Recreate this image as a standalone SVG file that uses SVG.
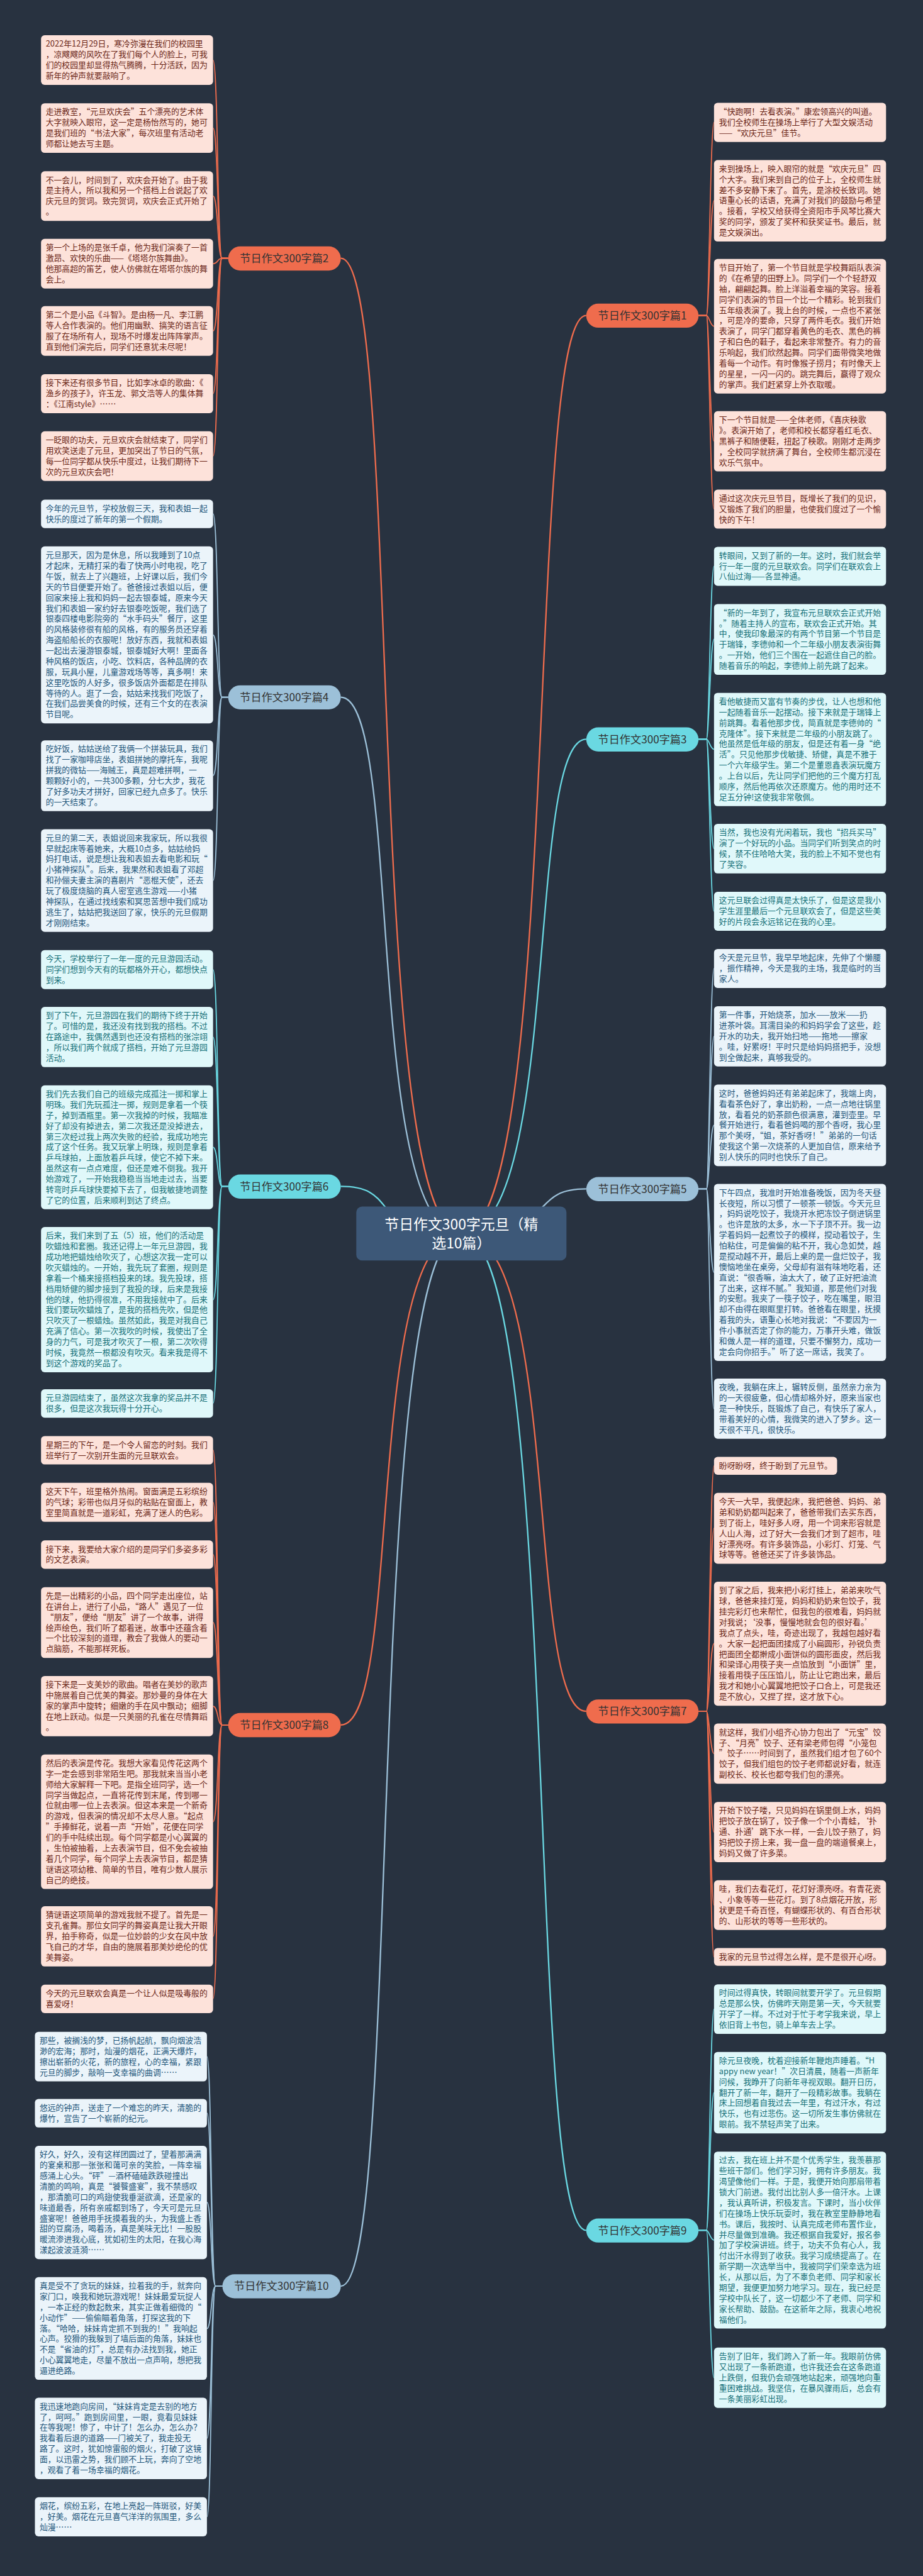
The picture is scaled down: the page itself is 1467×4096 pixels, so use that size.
<svg xmlns="http://www.w3.org/2000/svg" width="1467" height="4096" viewBox="0 0 1467 4096">
<style>
.t{font-family:"Noto Sans CJK SC","Noto Sans",sans-serif;font-size:22.5px}
.lo{fill:#fde2da}.lb{fill:#ebf4fa}.lt{fill:#e0f8fa}
.to{fill:#6b2617}.tb{fill:#22567a}.tt{fill:#157078}
.no{fill:#ef6c4d}.nb{fill:#9cc0d8}.nt{fill:#6ad8e2}
.nt2{font-family:"Noto Sans CJK SC","Noto Sans",sans-serif;font-size:30px;fill:#333;text-anchor:middle}
.co{stroke:#ef6c4d}.cb{stroke:#9cc0d8}.ct{stroke:#6ad8e2}
#connectors path{fill:none;stroke-width:3}
#connectors .m{stroke-width:4}
</style>
<rect width="1467" height="4096" fill="#283240"/>
<g transform="scale(0.572)">
<g id="connectors">
<!-- center to branches -->
<path class="m co" d="M947,718 C1120,718 1010,3429 1282,3429"/>
<path class="m cb" d="M947,1938 C1120,1938 1010,3429 1282,3429"/>
<path class="m ct" d="M947,3298 C1120,3298 1010,3429 1282,3429"/>
<path class="m co" d="M947,4795 C1120,4795 1010,3429 1282,3429"/>
<path class="m cb" d="M947,6355 C1120,6355 1010,3429 1282,3429"/>
<path class="m co" d="M1629,877 C1460,877 1560,3429 1282,3429"/>
<path class="m ct" d="M1629,2055 C1460,2055 1560,3429 1282,3429"/>
<path class="m cb" d="M1629,3305 C1460,3305 1560,3429 1282,3429"/>
<path class="m co" d="M1629,4757 C1460,4757 1560,3429 1282,3429"/>
<path class="m ct" d="M1629,6200 C1460,6200 1560,3429 1282,3429"/>
<!-- 篇2 leaves -->
<path class="co" d="M634,718 L617,718 C604,718 606,167 592,167"/>
<path class="co" d="M634,718 L617,718 C604,718 606,356 592,356"/>
<path class="co" d="M634,718 L617,718 C604,718 606,545 592,545"/>
<path class="co" d="M634,718 L617,718 C604,718 606,733 592,733"/>
<path class="co" d="M634,718 L617,718 C604,718 606,920 592,920"/>
<path class="co" d="M634,718 L617,718 C604,718 606,1094 592,1094"/>
<path class="co" d="M634,718 L617,718 C604,718 606,1268 592,1268"/>
<!-- 篇4 leaves -->
<path class="cb" d="M634,1938 L617,1938 C604,1938 606,1428 592,1428"/>
<path class="cb" d="M634,1938 L617,1938 C604,1938 606,1765 592,1765"/>
<path class="cb" d="M634,1938 L617,1938 C604,1938 606,2156 592,2156"/>
<path class="cb" d="M634,1938 L617,1938 C604,1938 606,2448 592,2448"/>
<!-- 篇6 leaves -->
<path class="ct" d="M634,3298 L617,3298 C604,3298 606,2695 592,2695"/>
<path class="ct" d="M634,3298 L617,3298 C604,3298 606,2883 592,2883"/>
<path class="ct" d="M634,3298 L617,3298 C604,3298 606,3189 592,3189"/>
<path class="ct" d="M634,3298 L617,3298 C604,3298 606,3613 592,3613"/>
<path class="ct" d="M634,3298 L617,3298 C604,3298 606,3901 592,3901"/>
<!-- 篇8 leaves -->
<path class="co" d="M634,4795 L617,4795 C604,4795 606,4031 592,4031"/>
<path class="co" d="M634,4795 L617,4795 C604,4795 606,4176 592,4176"/>
<path class="co" d="M634,4795 L617,4795 C604,4795 606,4321 592,4321"/>
<path class="co" d="M634,4795 L617,4795 C604,4795 606,4510 592,4510"/>
<path class="co" d="M634,4795 L617,4795 C604,4795 606,4743 592,4743"/>
<path class="co" d="M634,4795 L617,4795 C604,4795 606,5064 592,5064"/>
<path class="co" d="M634,4795 L617,4795 C604,4795 606,5383 592,5383"/>
<path class="co" d="M634,4795 L617,4795 C604,4795 606,5556 592,5556"/>
<!-- 篇10 leaves -->
<path class="cb" d="M618,6355 L599,6355 C586,6355 588,5717 575,5717"/>
<path class="cb" d="M618,6355 L599,6355 C586,6355 588,5874 575,5874"/>
<path class="cb" d="M618,6355 L599,6355 C586,6355 588,6122 575,6122"/>
<path class="cb" d="M618,6355 L599,6355 C586,6355 588,6473 575,6473"/>
<path class="cb" d="M618,6355 L599,6355 C586,6355 588,6778 575,6778"/>
<path class="cb" d="M618,6355 L599,6355 C586,6355 588,6996 575,6996"/>
<!-- 篇1 leaves -->
<path class="co" d="M1941,877 L1963,877 C1970,877 1974,340 1984,340"/>
<path class="co" d="M1941,877 L1963,877 C1970,877 1974,558 1984,558"/>
<path class="co" d="M1941,877 L1963,877 C1970,877 1974,907 1984,907"/>
<path class="co" d="M1941,877 L1963,877 C1970,877 1974,1226 1984,1226"/>
<path class="co" d="M1941,877 L1963,877 C1970,877 1974,1415 1984,1415"/>
<!-- 篇3 leaves -->
<path class="ct" d="M1941,2055 L1963,2055 C1970,2055 1974,1574 1984,1574"/>
<path class="ct" d="M1941,2055 L1963,2055 C1970,2055 1974,1777 1984,1777"/>
<path class="ct" d="M1941,2055 L1963,2055 C1970,2055 1974,2083 1984,2083"/>
<path class="ct" d="M1941,2055 L1963,2055 C1970,2055 1974,2359 1984,2359"/>
<path class="ct" d="M1941,2055 L1963,2055 C1970,2055 1974,2533 1984,2533"/>
<!-- 篇5 leaves -->
<path class="cb" d="M1941,3305 L1963,3305 C1970,3305 1974,2692 1984,2692"/>
<path class="cb" d="M1941,3305 L1963,3305 C1970,3305 1974,2881 1984,2881"/>
<path class="cb" d="M1941,3305 L1963,3305 C1970,3305 1974,3128 1984,3128"/>
<path class="cb" d="M1941,3305 L1963,3305 C1970,3305 1974,3537 1984,3537"/>
<path class="cb" d="M1941,3305 L1963,3305 C1970,3305 1974,3916 1984,3916"/>
<!-- 篇7 leaves -->
<path class="co" d="M1941,4757 L1963,4757 C1970,4757 1974,4075 1984,4075"/>
<path class="co" d="M1941,4757 L1963,4757 C1970,4757 1974,4248 1984,4248"/>
<path class="co" d="M1941,4757 L1963,4757 C1970,4757 1974,4569 1984,4569"/>
<path class="co" d="M1941,4757 L1963,4757 C1970,4757 1974,4875 1984,4875"/>
<path class="co" d="M1941,4757 L1963,4757 C1970,4757 1974,5093 1984,5093"/>
<path class="co" d="M1941,4757 L1963,4757 C1970,4757 1974,5296 1984,5296"/>
<path class="co" d="M1941,4757 L1963,4757 C1970,4757 1974,5440 1984,5440"/>
<!-- 篇9 leaves -->
<path class="ct" d="M1941,6200 L1963,6200 C1970,6200 1974,5585 1984,5585"/>
<path class="ct" d="M1941,6200 L1963,6200 C1970,6200 1974,5817 1984,5817"/>
<path class="ct" d="M1941,6200 L1963,6200 C1970,6200 1974,6227 1984,6227"/>
<path class="ct" d="M1941,6200 L1963,6200 C1970,6200 1974,6610 1984,6610"/>
</g>

<g id="center">
<rect x="990" y="3354" width="584" height="150" rx="16" fill="#3d5878"/>
<text x="1282" y="3418" text-anchor="middle" font-family="Noto Sans CJK SC, Noto Sans, sans-serif" font-size="40" fill="#ffffff">节日作文300字元旦（精</text>
<text x="1282" y="3470" text-anchor="middle" font-family="Noto Sans CJK SC, Noto Sans, sans-serif" font-size="40" fill="#ffffff">选10篇）</text>
</g>

<!-- branch nodes -->
<g id="b2"><rect class="no" x="634" y="685" width="313" height="67" rx="33.5"/><text class="nt2" x="790" y="729">节日作文300字篇2</text></g>
<g id="b4"><rect class="nb" x="634" y="1905" width="313" height="67" rx="33.5"/><text class="nt2" x="790" y="1949">节日作文300字篇4</text></g>
<g id="b6"><rect class="nt" x="634" y="3265" width="313" height="67" rx="33.5"/><text class="nt2" x="790" y="3309">节日作文300字篇6</text></g>
<g id="b8"><rect class="no" x="634" y="4762" width="313" height="67" rx="33.5"/><text class="nt2" x="790" y="4806">节日作文300字篇8</text></g>
<g id="b10"><rect class="nb" x="618" y="6322" width="329" height="67" rx="33.5"/><text class="nt2" x="782" y="6366">节日作文300字篇10</text></g>
<g id="b1"><rect class="no" x="1629" y="844" width="312" height="67" rx="33.5"/><text class="nt2" x="1785" y="888">节日作文300字篇1</text></g>
<g id="b3"><rect class="nt" x="1629" y="2022" width="312" height="67" rx="33.5"/><text class="nt2" x="1785" y="2066">节日作文300字篇3</text></g>
<g id="b5"><rect class="nb" x="1629" y="3272" width="312" height="67" rx="33.5"/><text class="nt2" x="1785" y="3316">节日作文300字篇5</text></g>
<g id="b7"><rect class="no" x="1629" y="4724" width="312" height="67" rx="33.5"/><text class="nt2" x="1785" y="4768">节日作文300字篇7</text></g>
<g id="b9"><rect class="nt" x="1629" y="6167" width="312" height="67" rx="33.5"/><text class="nt2" x="1785" y="6211">节日作文300字篇9</text></g>

<!-- 篇2 leaves -->
<g id="a1"><rect class="lo" x="114" y="98" width="478" height="138" rx="10"/><text class="t to" x="127" y="130"><tspan x="127">2022年12月29日，寒冷弥漫在我们的校园里</tspan><tspan x="127" dy="29.5">，凉飕飕的风吹在了我们每个人的脸上，可我</tspan><tspan x="127" dy="29.5">们的校园里却显得热气腾腾，十分活跃，因为</tspan><tspan x="127" dy="29.5">新年的钟声就要敲响了。</tspan></text></g>
<g id="a2"><rect class="lo" x="114" y="287" width="478" height="138" rx="10"/><text class="t to" x="127" y="319"><tspan x="127">走进教室，“元旦欢庆会”五个漂亮的艺术体</tspan><tspan x="127" dy="29.5">大字就映入眼帘，这一定是杨怡然写的，她可</tspan><tspan x="127" dy="29.5">是我们班的“书法大家”，每次班里有活动老</tspan><tspan x="127" dy="29.5">师都让她去写主题。</tspan></text></g>
<g id="a3"><rect class="lo" x="114" y="476" width="478" height="138" rx="10"/><text class="t to" x="127" y="508"><tspan x="127">不一会儿，时间到了，欢庆会开始了。由于我</tspan><tspan x="127" dy="29.5">是主持人，所以我和另一个搭档上台说起了欢</tspan><tspan x="127" dy="29.5">庆元旦的贺词。致完贺词，欢庆会正式开始了</tspan><tspan x="127" dy="29.5">。</tspan></text></g>
<g id="a4"><rect class="lo" x="114" y="664" width="478" height="138" rx="10"/><text class="t to" x="127" y="696"><tspan x="127">第一个上场的是张千卓，他为我们演奏了一首</tspan><tspan x="127" dy="29.5">激昂、欢快的乐曲——《塔塔尔族舞曲》。</tspan><tspan x="127" dy="29.5">他那高超的笛艺，使人仿佛就在塔塔尔族的舞</tspan><tspan x="127" dy="29.5">会上。</tspan></text></g>
<g id="a5"><rect class="lo" x="114" y="851" width="478" height="138" rx="10"/><text class="t to" x="127" y="883"><tspan x="127">第二个是小品《斗智》。是由杨一凡、李江鹏</tspan><tspan x="127" dy="29.5">等人合作表演的。他们用幽默、搞笑的语言征</tspan><tspan x="127" dy="29.5">服了在场所有人，现场不时爆发出阵阵掌声。</tspan><tspan x="127" dy="29.5">直到他们演完后，同学们还意犹未尽呢！</tspan></text></g>
<g id="a6"><rect class="lo" x="114" y="1040" width="478" height="108.5" rx="10"/><text class="t to" x="127" y="1072"><tspan x="127">接下来还有很多节目，比如李冰卓的歌曲：《</tspan><tspan x="127" dy="29.5">渔乡的孩子》，许玉龙、郭文浩等人的集体舞</tspan><tspan x="127" dy="29.5">：《江南style》……</tspan></text></g>
<g id="a7"><rect class="lo" x="114" y="1199" width="478" height="138" rx="10"/><text class="t to" x="127" y="1231"><tspan x="127">一眨眼的功夫，元旦欢庆会就结束了，同学们</tspan><tspan x="127" dy="29.5">用欢笑送走了元旦，更加突出了节日的气氛，</tspan><tspan x="127" dy="29.5">每一位同学都从快乐中度过，让我们期待下一</tspan><tspan x="127" dy="29.5">次的元旦欢庆会吧！</tspan></text></g>

<!-- 篇4 leaves -->
<g id="c4-1"><rect class="lb" x="114" y="1389" width="478" height="79" rx="10"/><text class="t tb" x="127" y="1421"><tspan x="127">今年的元旦节，学校放假三天，我和表姐一起</tspan><tspan x="127" dy="29.5">快乐的度过了新年的第一个假期。</tspan></text></g>
<g id="c4-2"><rect class="lb" x="114" y="1519" width="478" height="492" rx="10"/><text class="t tb" x="127" y="1551"><tspan x="127">元旦那天，因为是休息，所以我睡到了10点</tspan><tspan x="127" dy="29.5">才起床，无精打采的看了快两小时电视，吃了</tspan><tspan x="127" dy="29.5">午饭，就去上了兴趣班，上好课以后，我们今</tspan><tspan x="127" dy="29.5">天的节目便要开始了。爸爸接过表姐以后，便</tspan><tspan x="127" dy="29.5">回家来接上我和妈妈一起去银泰城，原来今天</tspan><tspan x="127" dy="29.5">我们和表姐一家约好去银泰吃饭呢，我们选了</tspan><tspan x="127" dy="29.5">银泰四楼电影院旁的“水手码头”餐厅，这里</tspan><tspan x="127" dy="29.5">的风格装修很有船的风格，有的服务员还穿着</tspan><tspan x="127" dy="29.5">海盗船船长的衣服呢！放好东西，我就和表姐</tspan><tspan x="127" dy="29.5">一起出去漫游银泰城，银泰城好大啊！里面各</tspan><tspan x="127" dy="29.5">种风格的饭店，小吃、饮料店，各种品牌的衣</tspan><tspan x="127" dy="29.5">服，玩具小屋，儿童游戏场等等，真多啊！来</tspan><tspan x="127" dy="29.5">这里吃饭的人好多，很多饭店外面都是在排队</tspan><tspan x="127" dy="29.5">等待的人。逛了一会，姑姑来找我们吃饭了，</tspan><tspan x="127" dy="29.5">在我们品尝美食的时候，还有三个女的在表演</tspan><tspan x="127" dy="29.5">节目呢。</tspan></text></g>
<g id="c4-3"><rect class="lb" x="114" y="2058" width="478" height="197" rx="10"/><text class="t tb" x="127" y="2090"><tspan x="127">吃好饭，姑姑送给了我俩一个拼装玩具，我们</tspan><tspan x="127" dy="29.5">找了一家咖啡店坐，表姐拼她的摩托车，我呢</tspan><tspan x="127" dy="29.5">拼我的微钻——海贼王，真是超难拼啊，一</tspan><tspan x="127" dy="29.5">颗颗好小的，一共300多颗，分七大步，我花</tspan><tspan x="127" dy="29.5">了好多功夫才拼好，回家已经九点多了。快乐</tspan><tspan x="127" dy="29.5">的一天结束了。</tspan></text></g>
<g id="c4-4"><rect class="lb" x="114" y="2305" width="478" height="285.5" rx="10"/><text class="t tb" x="127" y="2337"><tspan x="127">元旦的第二天，表姐说回来我家玩，所以我很</tspan><tspan x="127" dy="29.5">早就起床等着她来，大概10点多，姑姑给妈</tspan><tspan x="127" dy="29.5">妈打电话，说是想让我和表姐去看电影和玩“</tspan><tspan x="127" dy="29.5">小猪神探队”。后来，我果然和表姐看了邓超</tspan><tspan x="127" dy="29.5">和孙俪夫妻主演的喜剧片“恶棍天使”，还去</tspan><tspan x="127" dy="29.5">玩了极度烧脑的真人密室逃生游戏——小猪</tspan><tspan x="127" dy="29.5">神探队，在通过找线索和冥思苦想中我们成功</tspan><tspan x="127" dy="29.5">逃生了，姑姑把我送回了家，快乐的元旦假期</tspan><tspan x="127" dy="29.5">才刚刚结束。</tspan></text></g>

<!-- 篇6 leaves -->
<g id="c6-1"><rect class="lt" x="114" y="2641" width="478" height="108.5" rx="10"/><text class="t tt" x="127" y="2673"><tspan x="127">今天，学校举行了一年一度的元旦游园活动。</tspan><tspan x="127" dy="29.5">同学们想到今天有的玩都格外开心，都想快点</tspan><tspan x="127" dy="29.5">到来。</tspan></text></g>
<g id="c6-2"><rect class="lt" x="114" y="2799" width="478" height="167.5" rx="10"/><text class="t tt" x="127" y="2831"><tspan x="127">到了下午，元旦游园在我们的期待下终于开始</tspan><tspan x="127" dy="29.5">了。可惜的是，我还没有找到我的搭档。不过</tspan><tspan x="127" dy="29.5">在路途中，我偶然遇到也还没有搭档的张淙翊</tspan><tspan x="127" dy="29.5">，所以我们两个就成了搭档，开始了元旦游园</tspan><tspan x="127" dy="29.5">活动。</tspan></text></g>
<g id="c6-3"><rect class="lt" x="114" y="3017" width="478" height="344.5" rx="10"/><text class="t tt" x="127" y="3049"><tspan x="127">我们先去我们自己的班级完成孤注一掷和掌上</tspan><tspan x="127" dy="29.5">明珠。我们先玩孤注一掷，规则是拿着一个筷</tspan><tspan x="127" dy="29.5">子，掉到酒瓶里。第一次我掉的时候，我瞄准</tspan><tspan x="127" dy="29.5">好了却没有掉进去，第二次我还是没掉进去，</tspan><tspan x="127" dy="29.5">第三次经过我上两次失败的经验，我成功地完</tspan><tspan x="127" dy="29.5">成了这个任务。我又玩掌上明珠，规则是拿着</tspan><tspan x="127" dy="29.5">乒乓球拍，上面放着乒乓球，使它不掉下来。</tspan><tspan x="127" dy="29.5">虽然这有一点点难度，但还是难不倒我。我开</tspan><tspan x="127" dy="29.5">始游戏了，一开始我稳稳当当地走过去，当要</tspan><tspan x="127" dy="29.5">转弯时乒乓球快要掉下去了，但我敏捷地调整</tspan><tspan x="127" dy="29.5">了它的位置，后来顺利到达了终点。</tspan></text></g>
<g id="c6-4"><rect class="lt" x="114" y="3411" width="478" height="403.5" rx="10"/><text class="t tt" x="127" y="3443"><tspan x="127">后来，我们来到了五（5）班，他们的活动是</tspan><tspan x="127" dy="29.5">吹蜡烛和套圈。我还记得上一年元旦游园，我</tspan><tspan x="127" dy="29.5">成功地把蜡烛给吹灭了，心想这次我一定可以</tspan><tspan x="127" dy="29.5">吹灭蜡烛的。一开始，我先玩了套圈，规则是</tspan><tspan x="127" dy="29.5">拿着一个桶来接搭档投来的球。我先投球，搭</tspan><tspan x="127" dy="29.5">档用矫健的脚步接到了我投的球，后来是我接</tspan><tspan x="127" dy="29.5">他的球，他扔得很准，不用我接就中了。后来</tspan><tspan x="127" dy="29.5">我们要玩吹蜡烛了，是我的搭档先吹，但是他</tspan><tspan x="127" dy="29.5">只吹灭了一根蜡烛。虽然如此，我是对我自己</tspan><tspan x="127" dy="29.5">充满了信心。第一次我吹的时候，我使出了全</tspan><tspan x="127" dy="29.5">身的力气，可是我才吹灭了一根，第二次吹得</tspan><tspan x="127" dy="29.5">时候，我竟然一根都没有吹灭。看来我是得不</tspan><tspan x="127" dy="29.5">到这个游戏的奖品了。</tspan></text></g>
<g id="c6-5"><rect class="lt" x="114" y="3862" width="478" height="79" rx="10"/><text class="t tt" x="127" y="3894"><tspan x="127">元旦游园结束了，虽然这次我拿的奖品并不是</tspan><tspan x="127" dy="29.5">很多，但是这次我玩得十分开心。</tspan></text></g>

<!-- 篇8 leaves -->
<g id="c8-1"><rect class="lo" x="114" y="3992" width="478" height="79" rx="10"/><text class="t to" x="127" y="4024"><tspan x="127">星期三的下午，是一个令人留恋的时刻。我们</tspan><tspan x="127" dy="29.5">班举行了一次别开生面的元旦联欢会。</tspan></text></g>
<g id="c8-2"><rect class="lo" x="114" y="4122" width="478" height="108.5" rx="10"/><text class="t to" x="127" y="4154"><tspan x="127">这天下午，班里格外热闹。窗面满是五彩缤纷</tspan><tspan x="127" dy="29.5">的气球；彩带也似月牙似的粘贴在窗面上，教</tspan><tspan x="127" dy="29.5">室里简直就是一道彩虹，充满了迷人的色彩。</tspan></text></g>
<g id="c8-3"><rect class="lo" x="114" y="4282" width="478" height="79" rx="10"/><text class="t to" x="127" y="4314"><tspan x="127">接下来，我要给大家介绍的是同学们多姿多彩</tspan><tspan x="127" dy="29.5">的文艺表演。</tspan></text></g>
<g id="c8-4"><rect class="lo" x="114" y="4412" width="478" height="197" rx="10"/><text class="t to" x="127" y="4444"><tspan x="127">先是一出精彩的小品，四个同学走出座位，站</tspan><tspan x="127" dy="29.5">在讲台上，进行了小品，“路人”遇见了一位</tspan><tspan x="127" dy="29.5">“朋友”，便给“朋友”讲了一个故事，讲得</tspan><tspan x="127" dy="29.5">绘声绘色，我们听了都着迷，故事中还蕴含着</tspan><tspan x="127" dy="29.5">一个比较深刻的道理，教会了我做人的要动一</tspan><tspan x="127" dy="29.5">点脑筋，不能那样死板。</tspan></text></g>
<g id="c8-5"><rect class="lo" x="114" y="4659" width="478" height="167.5" rx="10"/><text class="t to" x="127" y="4691"><tspan x="127">接下来是一支美妙的歌曲。唱者在美妙的歌声</tspan><tspan x="127" dy="29.5">中施展着自己优美的舞姿。那妙曼的身体在大</tspan><tspan x="127" dy="29.5">家的掌声中旋转；细嫩的手在风中飘动；细脚</tspan><tspan x="127" dy="29.5">在地上跃动。似是一只美丽的孔雀在尽情舞蹈</tspan><tspan x="127" dy="29.5">。</tspan></text></g>
<g id="c8-6"><rect class="lo" x="114" y="4877" width="478" height="374" rx="10"/><text class="t to" x="127" y="4909"><tspan x="127">然后的表演是传花。我想大家看见传花这两个</tspan><tspan x="127" dy="29.5">字一定会感到非常陌生吧。那我就来当当小老</tspan><tspan x="127" dy="29.5">师给大家解释一下吧。是指全班同学，选一个</tspan><tspan x="127" dy="29.5">同学当做起点，一直将花传到末尾，传到哪一</tspan><tspan x="127" dy="29.5">位就由哪一位上去表演。但这本来是一个新奇</tspan><tspan x="127" dy="29.5">的游戏，但表演的情况却不太尽人意。“起点</tspan><tspan x="127" dy="29.5">”手捧鲜花，说着一声“开始”，花便在同学</tspan><tspan x="127" dy="29.5">们的手中陆续出现。每个同学都是小心翼翼的</tspan><tspan x="127" dy="29.5">，生怕被抽着，上去表演节目，但不免会被抽</tspan><tspan x="127" dy="29.5">着几个同学，每个同学上去表演节目，都是猜</tspan><tspan x="127" dy="29.5">谜语这项幼稚、简单的节目，唯有少数人展示</tspan><tspan x="127" dy="29.5">自己的绝技。</tspan></text></g>
<g id="c8-7"><rect class="lo" x="114" y="5299" width="478" height="167.5" rx="10"/><text class="t to" x="127" y="5331"><tspan x="127">猜谜语这项简单的游戏我就不提了。首先是一</tspan><tspan x="127" dy="29.5">支孔雀舞。那位女同学的舞姿真是让我大开眼</tspan><tspan x="127" dy="29.5">界，拍手称奇，似是一位妙龄的少女在风中放</tspan><tspan x="127" dy="29.5">飞自己的才华，自由的施展着那美妙绝伦的优</tspan><tspan x="127" dy="29.5">美舞姿。</tspan></text></g>
<g id="c8-8"><rect class="lo" x="114" y="5517" width="478" height="79" rx="10"/><text class="t to" x="127" y="5549"><tspan x="127">今天的元旦联欢会真是一个让人似是吸毒般的</tspan><tspan x="127" dy="29.5">喜爱呀！</tspan></text></g>

<!-- 篇10 leaves -->
<g id="c10-1"><rect class="lb" x="97" y="5648" width="478" height="138" rx="10"/><text class="t tb" x="110" y="5680"><tspan x="110">那些，被搁浅的梦，已扬帆起航，飘向烟波浩</tspan><tspan x="110" dy="29.5">渺的宏海；那时，灿漫的烟花，正满天爆炸，</tspan><tspan x="110" dy="29.5">擦出崭新的火花，新的旅程，心的幸福，紧跟</tspan><tspan x="110" dy="29.5">元旦的脚步，敲响一支幸福的曲调……</tspan></text></g>
<g id="c10-2"><rect class="lb" x="97" y="5835" width="478" height="79" rx="10"/><text class="t tb" x="110" y="5867"><tspan x="110">悠远的钟声，送走了一个难忘的昨天，清脆的</tspan><tspan x="110" dy="29.5">爆竹，宣告了一个崭新的纪元。</tspan></text></g>
<g id="c10-3"><rect class="lb" x="97" y="5965" width="478" height="315" rx="10"/><text class="t tb" x="110" y="5997"><tspan x="110">好久，好久，没有这样团圆过了，望着那满满</tspan><tspan x="110" dy="29.5">的宴桌和那一张张和蔼可亲的笑脸，一阵幸福</tspan><tspan x="110" dy="29.5">感涌上心头。“砰”—酒杯磕磕跌跌碰撞出</tspan><tspan x="110" dy="29.5">清脆的鸣响，真是“饕餮盛宴”，我不禁感叹</tspan><tspan x="110" dy="29.5">，那清脆可口的鸡翅使我垂涎欲滴，还是家的</tspan><tspan x="110" dy="29.5">味道最香，所有亲戚都到场了，今天可是元旦</tspan><tspan x="110" dy="29.5">盛宴呢！爸爸用手抚摸着我的头，为我盛上香</tspan><tspan x="110" dy="29.5">甜的豆腐汤，喝着汤，真是美味无比！一股股</tspan><tspan x="110" dy="29.5">暖流渗进我心底，犹如初生的太阳，在我心海</tspan><tspan x="110" dy="29.5">漾起波波涟漪……</tspan></text></g>
<g id="c10-4"><rect class="lb" x="97" y="6330" width="478" height="285.5" rx="10"/><text class="t tb" x="110" y="6362"><tspan x="110">真是受不了贪玩的妹妹，拉着我的手，就奔向</tspan><tspan x="110" dy="29.5">家门口，唤我和她玩游戏呢！妹妹最爱玩捉人</tspan><tspan x="110" dy="29.5">，一本正经的数起数来，其实正做着细微的“</tspan><tspan x="110" dy="29.5">小动作”——偷偷瞄着角落，打探这我的下</tspan><tspan x="110" dy="29.5">落。“哈哈，妹妹肯定抓不到我的！”我响起</tspan><tspan x="110" dy="29.5">心声。狡猾的我躲到了墙后面的角落，妹妹也</tspan><tspan x="110" dy="29.5">不是“省油的灯”，总是有办法找到我，她正</tspan><tspan x="110" dy="29.5">小心翼翼地走，尽量不放出一点声响，想把我</tspan><tspan x="110" dy="29.5">逼进绝路。</tspan></text></g>
<g id="c10-5"><rect class="lb" x="97" y="6665" width="478" height="226.5" rx="10"/><text class="t tb" x="110" y="6697"><tspan x="110">我迅速地跑向房间，“妹妹肯定是去别的地方</tspan><tspan x="110" dy="29.5">了，呵呵。”跑到房间里，一眼，竟看见妹妹</tspan><tspan x="110" dy="29.5">在等我呢！惨了，中计了！怎么办，怎么办？</tspan><tspan x="110" dy="29.5">我看着后退的道路——门被关了，我走投无</tspan><tspan x="110" dy="29.5">路了。这时，犹如惊雷般的烟火，打破了这镜</tspan><tspan x="110" dy="29.5">面，以迅雷之势，我们顾不上玩，奔向了空地</tspan><tspan x="110" dy="29.5">，观看了着一场幸福的烟花。</tspan></text></g>
<g id="c10-6"><rect class="lb" x="97" y="6942" width="478" height="108.5" rx="10"/><text class="t tb" x="110" y="6974"><tspan x="110">烟花，缤纷五彩，在地上亮起一阵斑驳，好美</tspan><tspan x="110" dy="29.5">，好美。烟花在元旦喜气洋洋的氛围里，多么</tspan><tspan x="110" dy="29.5">灿漫……</tspan></text></g>

<!-- 篇1 leaves -->
<g id="r1-1"><rect class="lo" x="1984" y="286" width="478" height="108.5" rx="10"/><text class="t to" x="1998" y="318"><tspan x="1998">“快跑啊！去看表演。”康宏领高兴的叫道。</tspan><tspan x="1998" dy="29.5">我们全校师生在操场上举行了大型文娱活动</tspan><tspan x="1998" dy="29.5">——“欢庆元旦”佳节。</tspan></text></g>
<g id="r1-2"><rect class="lo" x="1984" y="445" width="478" height="226.5" rx="10"/><text class="t to" x="1998" y="477"><tspan x="1998">来到操场上，映入眼帘的就是“欢庆元旦”四</tspan><tspan x="1998" dy="29.5">个大字。我们来到自己的位子上，全校师生就</tspan><tspan x="1998" dy="29.5">差不多安静下来了。首先，是涂校长致词。她</tspan><tspan x="1998" dy="29.5">语重心长的话语，充满了对我们的鼓励与希望</tspan><tspan x="1998" dy="29.5">。接着，学校又给获得全资阳市手风琴比赛大</tspan><tspan x="1998" dy="29.5">奖的同学，颁发了奖杯和获奖证书。最后，就</tspan><tspan x="1998" dy="29.5">是文娱演出。</tspan></text></g>
<g id="r1-3"><rect class="lo" x="1984" y="720" width="478" height="374" rx="10"/><text class="t to" x="1998" y="752"><tspan x="1998">节目开始了，第一个节目就是学校舞蹈队表演</tspan><tspan x="1998" dy="29.5">的《在希望的田野上》。同学们一个个轻舒双</tspan><tspan x="1998" dy="29.5">袖，翩翩起舞。脸上洋溢着幸福的笑容。接着</tspan><tspan x="1998" dy="29.5">同学们表演的节目一个比一个精彩。轮到我们</tspan><tspan x="1998" dy="29.5">五年级表演了。我上台的时候，一点也不紧张</tspan><tspan x="1998" dy="29.5">，可是冷的要命，只穿了两件毛衣。我们开始</tspan><tspan x="1998" dy="29.5">表演了，同学门都穿着黄色的毛衣、黑色的裤</tspan><tspan x="1998" dy="29.5">子和白色的鞋子，看起来非常整齐。有力的音</tspan><tspan x="1998" dy="29.5">乐响起，我们欣然起舞。同学们面带微笑地做</tspan><tspan x="1998" dy="29.5">着每一个动作。有时像猴子捞月；有时像天上</tspan><tspan x="1998" dy="29.5">的星星，一闪一闪的。跳完舞后，赢得了观众</tspan><tspan x="1998" dy="29.5">的掌声。我们赶紧穿上外衣取暖。</tspan></text></g>
<g id="r1-4"><rect class="lo" x="1984" y="1143" width="478" height="167.5" rx="10"/><text class="t to" x="1998" y="1175"><tspan x="1998">下一个节目就是——全体老师，《喜庆秧歌</tspan><tspan x="1998" dy="29.5">》。表演开始了，老师和校长都穿着红毛衣、</tspan><tspan x="1998" dy="29.5">黑裤子和随便鞋，扭起了秧歌。刚刚才走两步</tspan><tspan x="1998" dy="29.5">，全校同学就挤满了舞台，全校师生都沉浸在</tspan><tspan x="1998" dy="29.5">欢乐气氛中。</tspan></text></g>
<g id="r1-5"><rect class="lo" x="1984" y="1361" width="478" height="108.5" rx="10"/><text class="t to" x="1998" y="1393"><tspan x="1998">通过这次庆元旦节目，既增长了我们的见识，</tspan><tspan x="1998" dy="29.5">又锻炼了我们的胆量，也使我们度过了一个愉</tspan><tspan x="1998" dy="29.5">快的下午！</tspan></text></g>

<!-- 篇3 leaves -->
<g id="r3-1"><rect class="lt" x="1984" y="1520" width="478" height="108.5" rx="10"/><text class="t tt" x="1998" y="1552"><tspan x="1998">转眼间，又到了新的一年。这时，我们就会举</tspan><tspan x="1998" dy="29.5">行一年一度的元旦联欢会。同学们在联欢会上</tspan><tspan x="1998" dy="29.5">八仙过海——各显神通。</tspan></text></g>
<g id="r3-2"><rect class="lt" x="1984" y="1679" width="478" height="197" rx="10"/><text class="t tt" x="1998" y="1711"><tspan x="1998">“新的一年到了，我宣布元旦联欢会正式开始</tspan><tspan x="1998" dy="29.5">。”随着主持人的宣布，联欢会正式开始。其</tspan><tspan x="1998" dy="29.5">中，使我印象最深的有两个节目第一个节目是</tspan><tspan x="1998" dy="29.5">于瑞锋，李德帅和一个二年级小朋友表演街舞</tspan><tspan x="1998" dy="29.5">。一开始，他们三个围在一起遮住自己的脸。</tspan><tspan x="1998" dy="29.5">随着音乐的响起，李德帅上前先跳了起来。</tspan></text></g>
<g id="r3-3"><rect class="lt" x="1984" y="1926" width="478" height="315" rx="10"/><text class="t tt" x="1998" y="1958"><tspan x="1998">看他敏捷而又富有节奏的步伐，让人也想和他</tspan><tspan x="1998" dy="29.5">一起随着音乐一起摆动。接下来就是于瑞锋上</tspan><tspan x="1998" dy="29.5">前跳舞。看着他那步伐，简直就是李德帅的“</tspan><tspan x="1998" dy="29.5">克隆体”。接下来就是二年级的小朋友跳了。</tspan><tspan x="1998" dy="29.5">他虽然是低年级的朋友，但是还有着一身“绝</tspan><tspan x="1998" dy="29.5">活”。只见他那步伐敏捷、矫健，真是不雅于</tspan><tspan x="1998" dy="29.5">一个六年级学生。第二个是董恩鑫表演玩魔方</tspan><tspan x="1998" dy="29.5">。上台以后，先让同学们把他的三个魔方打乱</tspan><tspan x="1998" dy="29.5">顺序，然后他再依次还原魔方。他的用时还不</tspan><tspan x="1998" dy="29.5">足五分钟!这使我非常敬佩。</tspan></text></g>
<g id="r3-4"><rect class="lt" x="1984" y="2290" width="478" height="138" rx="10"/><text class="t tt" x="1998" y="2322"><tspan x="1998">当然，我也没有光闲着玩，我也“招兵买马”</tspan><tspan x="1998" dy="29.5">演了一个好玩的小品。当同学们听到笑点的时</tspan><tspan x="1998" dy="29.5">候，禁不住哈哈大笑，我的脸上不知不觉也有</tspan><tspan x="1998" dy="29.5">了笑容。</tspan></text></g>
<g id="r3-5"><rect class="lt" x="1984" y="2479" width="478" height="108.5" rx="10"/><text class="t tt" x="1998" y="2511"><tspan x="1998">这元旦联会过得真是太快乐了，但是这是我小</tspan><tspan x="1998" dy="29.5">学生涯里最后一个元旦联欢会了，但是这些美</tspan><tspan x="1998" dy="29.5">好的片段会永远铭记在我的心里。</tspan></text></g>

<!-- 篇5 leaves -->
<g id="r5-1"><rect class="lb" x="1984" y="2638" width="478" height="108.5" rx="10"/><text class="t tb" x="1998" y="2670"><tspan x="1998">今天是元旦节，我早早地起床，先伸了个懒腰</tspan><tspan x="1998" dy="29.5">，振作精神，今天是我的主场，我是临时的当</tspan><tspan x="1998" dy="29.5">家人。</tspan></text></g>
<g id="r5-2"><rect class="lb" x="1984" y="2797" width="478" height="167.5" rx="10"/><text class="t tb" x="1998" y="2829"><tspan x="1998">第一件事，开始烧茶，加水——放米——扔</tspan><tspan x="1998" dy="29.5">进茶叶袋。耳濡目染的和妈妈学会了这些，趁</tspan><tspan x="1998" dy="29.5">开水的功夫，我开始扫地——拖地——擦家</tspan><tspan x="1998" dy="29.5">。哇，好累呀！平时只是给妈妈搭把手，没想</tspan><tspan x="1998" dy="29.5">到全做起来，真够我受的。</tspan></text></g>
<g id="r5-3"><rect class="lb" x="1984" y="3015" width="478" height="226.5" rx="10"/><text class="t tb" x="1998" y="3047"><tspan x="1998">这时，爸爸妈妈还有弟弟起床了，我端上肉，</tspan><tspan x="1998" dy="29.5">看看茶色好了，拿出奶粉，一点一点地往锅里</tspan><tspan x="1998" dy="29.5">放，看着兑的奶茶颜色很满意，灌到壶里。早</tspan><tspan x="1998" dy="29.5">餐开始进行，看着爸妈喝的那个香呀，我心里</tspan><tspan x="1998" dy="29.5">那个美呀，“姐，茶好香呀！”弟弟的一句话</tspan><tspan x="1998" dy="29.5">使我这个第一次烧茶的人更加自信，原来给予</tspan><tspan x="1998" dy="29.5">别人快乐的同时也快乐了自己。</tspan></text></g>
<g id="r5-4"><rect class="lb" x="1984" y="3291" width="478" height="492" rx="10"/><text class="t tb" x="1998" y="3323"><tspan x="1998">下午四点，我准时开始准备晚饭，因为冬天昼</tspan><tspan x="1998" dy="29.5">长夜短，所以习惯了一顿茶一顿饭。今天元旦</tspan><tspan x="1998" dy="29.5">，妈妈说吃饺子，我烧开水把冻饺子倒进锅里</tspan><tspan x="1998" dy="29.5">。也许是放的太多，水一下子顶不开。我一边</tspan><tspan x="1998" dy="29.5">学着妈妈一起煮饺子的模样，搅动着饺子，生</tspan><tspan x="1998" dy="29.5">怕粘住，可是偏偏的粘不开，我心急如焚，越</tspan><tspan x="1998" dy="29.5">是搅动越不开，最后上桌的是一盘烂饺子，我</tspan><tspan x="1998" dy="29.5">懊恼地坐在桌旁，父母却有滋有味地吃着，还</tspan><tspan x="1998" dy="29.5">直说：“很香嘛，油太大了，破了正好把油流</tspan><tspan x="1998" dy="29.5">了出来，这样不腻。”我知道，那是他们对我</tspan><tspan x="1998" dy="29.5">的安慰。我夹了一筷子饺子，吃在嘴里，眼泪</tspan><tspan x="1998" dy="29.5">却不由得在眼眶里打转。爸爸看在眼里，抚摸</tspan><tspan x="1998" dy="29.5">着我的头，语重心长地对我说：“不要因为一</tspan><tspan x="1998" dy="29.5">件小事就否定了你的能力，万事开头难，做饭</tspan><tspan x="1998" dy="29.5">和做人是一样的道理，只要不懈努力，成功一</tspan><tspan x="1998" dy="29.5">定会向你招手。”听了这一席话，我笑了。</tspan></text></g>
<g id="r5-5"><rect class="lb" x="1984" y="3832" width="478" height="167.5" rx="10"/><text class="t tb" x="1998" y="3864"><tspan x="1998">夜晚，我躺在床上，辗转反侧，虽然亲力亲为</tspan><tspan x="1998" dy="29.5">的一天很疲惫，但心情却格外好，原来当家也</tspan><tspan x="1998" dy="29.5">是一种快乐，既锻炼了自己，有快乐了家人，</tspan><tspan x="1998" dy="29.5">带着美好的心情，我微笑的进入了梦乡。这一</tspan><tspan x="1998" dy="29.5">天很不平凡，很快乐。</tspan></text></g>

<!-- 篇7 leaves -->
<g id="r7-1"><rect class="lo" x="1984" y="4050" width="342" height="49.5" rx="10"/><text class="t to" x="1998" y="4082">盼呀盼呀，终于盼到了元旦节。</text></g>
<g id="r7-2"><rect class="lo" x="1984" y="4150" width="478" height="197" rx="10"/><text class="t to" x="1998" y="4182"><tspan x="1998">今天一大早，我便起床，我把爸爸、妈妈、弟</tspan><tspan x="1998" dy="29.5">弟和奶奶都叫起来了，爸爸带我们去买东西，</tspan><tspan x="1998" dy="29.5">到了街上，哇好多人呀，用一个词来形容就是</tspan><tspan x="1998" dy="29.5">人山人海，过了好大一会我们才到了超市，哇</tspan><tspan x="1998" dy="29.5">好漂亮呀。有许多装饰品，小彩灯、灯笼、气</tspan><tspan x="1998" dy="29.5">球等等。爸爸还买了许多装饰品。</tspan></text></g>
<g id="r7-3"><rect class="lo" x="1984" y="4397" width="478" height="344.5" rx="10"/><text class="t to" x="1998" y="4429"><tspan x="1998">到了家之后，我来把小彩灯挂上，弟弟来吹气</tspan><tspan x="1998" dy="29.5">球，爸爸来挂灯笼，妈妈和奶奶来包饺子，我</tspan><tspan x="1998" dy="29.5">挂完彩灯也来帮忙，但我包的很难看，妈妈就</tspan><tspan x="1998" dy="29.5">对我说；‘没事，慢慢地就会包的很好看。’</tspan><tspan x="1998" dy="29.5">我点了点头，哇，奇迹出现了，我越包越好看</tspan><tspan x="1998" dy="29.5">。大家一起把面团揉成了小扁圆形，孙锐负责</tspan><tspan x="1998" dy="29.5">把面团全都擀成小面饼似的圆形面皮，然后我</tspan><tspan x="1998" dy="29.5">和梁译心用筷子夹一点馅放到“小面饼”里，</tspan><tspan x="1998" dy="29.5">接着用筷子压压馅儿，防止让它跑出来，最后</tspan><tspan x="1998" dy="29.5">我才和她小心翼翼地把饺子口合上，可是我还</tspan><tspan x="1998" dy="29.5">是不放心，又捏了捏，这才放下心。</tspan></text></g>
<g id="r7-4"><rect class="lo" x="1984" y="4791" width="478" height="167.5" rx="10"/><text class="t to" x="1998" y="4823"><tspan x="1998">就这样，我们小组齐心协力包出了“元宝”饺</tspan><tspan x="1998" dy="29.5">子、“月亮”饺子、还有梁老师包得“小笼包</tspan><tspan x="1998" dy="29.5">”饺子……时间到了，虽然我们组才包了60个</tspan><tspan x="1998" dy="29.5">饺子，但我们组包的饺子老师都说好看，就连</tspan><tspan x="1998" dy="29.5">副校长、校长也都夸我们包的漂亮。</tspan></text></g>
<g id="r7-5"><rect class="lo" x="1984" y="5009" width="478" height="167.5" rx="10"/><text class="t to" x="1998" y="5041"><tspan x="1998">开始下饺子喽，只见妈妈在锅里倒上水，妈妈</tspan><tspan x="1998" dy="29.5">把饺子放在锅了，饺子像一个个小青蛙，‘扑</tspan><tspan x="1998" dy="29.5">通、扑通’跳下水一样，一会儿饺子熟了，妈</tspan><tspan x="1998" dy="29.5">妈把饺子捞上来，我一盘一盘的端道餐桌上，</tspan><tspan x="1998" dy="29.5">妈妈又做了许多菜。</tspan></text></g>
<g id="r7-6"><rect class="lo" x="1984" y="5227" width="478" height="138" rx="10"/><text class="t to" x="1998" y="5259"><tspan x="1998">哇，我们去看花灯，花灯好漂亮呀。有青花瓷</tspan><tspan x="1998" dy="29.5">、小象等等一些花灯。到了8点烟花开放，形</tspan><tspan x="1998" dy="29.5">状更是千奇百怪，有蝴蝶形状的、有百合形状</tspan><tspan x="1998" dy="29.5">的、山形状的等等一些形状的。</tspan></text></g>
<g id="r7-7"><rect class="lo" x="1984" y="5415" width="478" height="49.5" rx="10"/><text class="t to" x="1998" y="5447">我家的元旦节过得怎么样，是不是很开心呀。</text></g>

<!-- 篇9 leaves -->
<g id="r9-1"><rect class="lt" x="1984" y="5516" width="478" height="138" rx="10"/><text class="t tt" x="1998" y="5548"><tspan x="1998">时间过得真快，转眼间就要开学了。元旦假期</tspan><tspan x="1998" dy="29.5">总是那么快，仿佛昨天刚是第一天，今天就要</tspan><tspan x="1998" dy="29.5">开学了一样。不过对于忙于考学我来说，早上</tspan><tspan x="1998" dy="29.5">依旧背上书包，骑上单车去上学。</tspan></text></g>
<g id="r9-2"><rect class="lt" x="1984" y="5704" width="478" height="226.5" rx="10"/><text class="t tt" x="1998" y="5736"><tspan x="1998">除元旦夜晚，枕着迎接新年鞭炮声睡着。“H</tspan><tspan x="1998" dy="29.5">appy new year！”次日清晨，随着一声新年</tspan><tspan x="1998" dy="29.5">问候，我睁开了向新年寻视双眼。翻开日历，</tspan><tspan x="1998" dy="29.5">翻开了新一年，翻开了一段精彩故事。我躺在</tspan><tspan x="1998" dy="29.5">床上回想着自我过去一年里，有过汗水，有过</tspan><tspan x="1998" dy="29.5">快乐，也有过悲伤。这一切所发生事仿佛就在</tspan><tspan x="1998" dy="29.5">眼前。我不禁轻声笑了出来。</tspan></text></g>
<g id="r9-3"><rect class="lt" x="1984" y="5981" width="478" height="492" rx="10"/><text class="t tt" x="1998" y="6013"><tspan x="1998">过去，我在班上并不是个优秀学生，我羡慕那</tspan><tspan x="1998" dy="29.5">些班干部们。他们学习好，拥有许多朋友。我</tspan><tspan x="1998" dy="29.5">渴望像他们一样。于是，我便开始向那扇带着</tspan><tspan x="1998" dy="29.5">锁大门前进。我付出比别人多一倍汗水。上课</tspan><tspan x="1998" dy="29.5">，我认真听讲，积极发言。下课时，当小伙伴</tspan><tspan x="1998" dy="29.5">们在操场上快乐玩耍时，我在教室里静静地看</tspan><tspan x="1998" dy="29.5">书。课后，我按时、认真完成老师布置作业，</tspan><tspan x="1998" dy="29.5">并尽量做到准确。我还根据自我爱好，报名参</tspan><tspan x="1998" dy="29.5">加了学校演讲班。终于，功夫不负有心人，我</tspan><tspan x="1998" dy="29.5">付出汗水得到了收获。我学习成绩提高了。在</tspan><tspan x="1998" dy="29.5">新学期一次选举当中，我被同学们荣幸选为班</tspan><tspan x="1998" dy="29.5">长，从那以后，为了不辜负老师、同学和家长</tspan><tspan x="1998" dy="29.5">期望，我便更加努力地学习。现在，我已经是</tspan><tspan x="1998" dy="29.5">学校中队长了，这一切都少不了老师、同学和</tspan><tspan x="1998" dy="29.5">家长帮助、鼓励。在这新年之际，我衷心地祝</tspan><tspan x="1998" dy="29.5">福他们。</tspan></text></g>
<g id="r9-4"><rect class="lt" x="1984" y="6526" width="478" height="167.5" rx="10"/><text class="t tt" x="1998" y="6558"><tspan x="1998">告别了旧年，我们跨入了新一年。我眼前仿佛</tspan><tspan x="1998" dy="29.5">又出现了一条新跑道，也许我还会在这条跑道</tspan><tspan x="1998" dy="29.5">上跌倒，但我仍会顽强地站起来，顽强地向重</tspan><tspan x="1998" dy="29.5">重困难挑战。我坚信，在暴风骤雨后，总会有</tspan><tspan x="1998" dy="29.5">一条美丽彩虹出现。</tspan></text></g>
</g>
</svg>
